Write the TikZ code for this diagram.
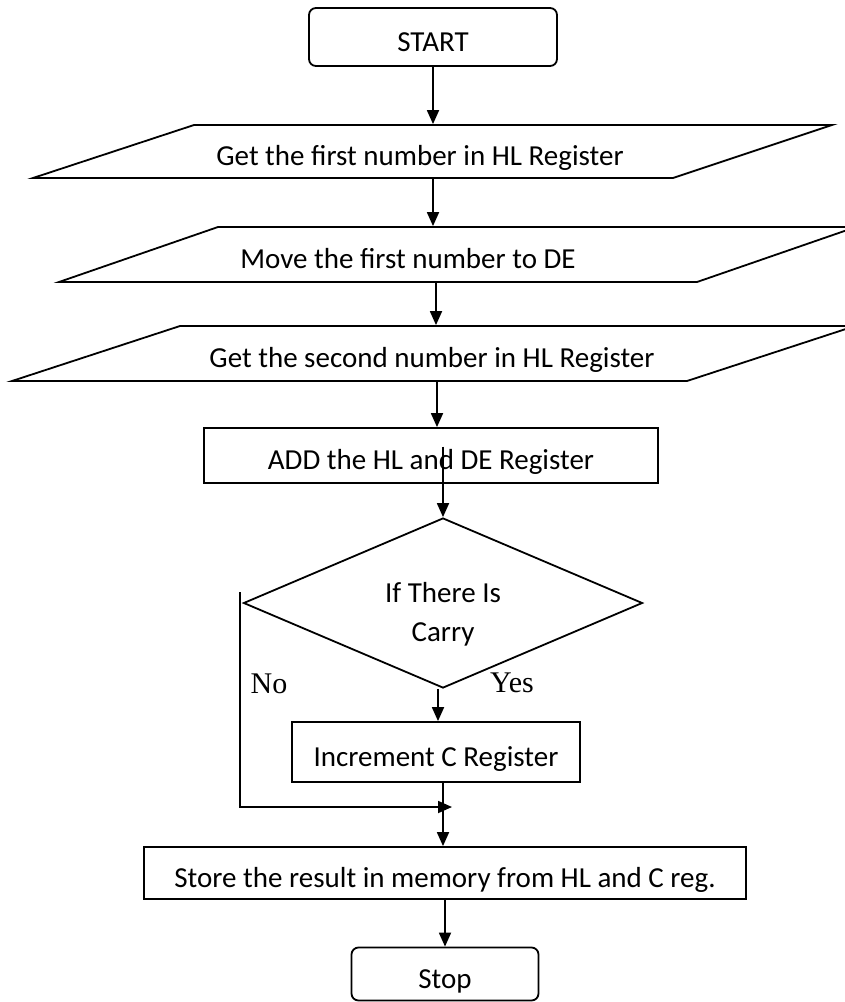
\documentclass[tikz,border=0pt]{standalone}
\usepackage{fontspec}
\setmainfont{Carlito}
\newfontfamily\answerfont{Liberation Serif}
\usetikzlibrary{arrows.meta,shapes.geometric}

\begin{document}
\begin{tikzpicture}[x=1pt,y=-1pt,
  line width=1.8pt,
  arr/.style={-{Triangle[length=14pt,width=12pt]}},
  lbl/.style={font=\fontsize{29}{35}\selectfont, text height=28.6pt, text depth=0pt, inner sep=0pt},
  terminal/.style={lbl, draw, rounded corners=7pt},
  process/.style={lbl, draw},
  io/.style={lbl},
  decision/.style={draw, diamond, inner sep=0pt},
  answer/.style={font=\answerfont\fontsize{30}{36}\selectfont, inner sep=0pt}
]
% page
\path[fill=white, use as bounding box] (0,0) rectangle (844,1002);

% start
\node[terminal, minimum width=248pt, minimum height=58pt] (start) at (433,37) {START};

% input / output steps (parallelograms)
\node[io, minimum height=53pt] (in1) at (420,151.5) {Get the first number in HL Register};
\draw (33,178) -- (673,178) -- (832,125) -- (194,125) -- cycle;

\node[io, minimum height=55pt] (in2) at (408,254.5) {Move the first number to DE};
\draw (59,282) -- (697,282) -- (856,227) -- (218,227) -- cycle;

\node[io, minimum height=55pt] (in3) at (432,353.5) {Get the second number in HL Register};
\draw (12,381) -- (687,381) -- (855,326) -- (180,326) -- cycle;

% addition
\node[process, minimum width=454pt, minimum height=55pt] (add) at (431,455.5) {ADD the HL and DE Register};

% carry test
\node[decision, minimum width=399pt, minimum height=170pt] (dec) at (443,603) {};
\node[font=\fontsize{29}{39}\selectfont, align=center, inner sep=0pt] (dectext) at (443,614) {If There Is\\Carry};
\node[answer] (no) at (269,684) {No};
\node[answer] (yes) at (512,683) {Yes};

% increment and store
\node[process, minimum width=288pt, minimum height=60pt] (inc) at (436,752) {Increment C Register};
\node[process, minimum width=602pt, minimum height=52pt] (store) at (445,873) {Store the result in memory from HL and C reg.};

% stop
\node[terminal, minimum width=187pt, minimum height=53pt] (stop) at (445,974) {Stop};

% flow
\draw[arr] (start.south) -- (start.south |- in1.north);
\draw[arr] ([xshift=13pt]in1.south) -- ([xshift=25pt]in2.north);
\draw[arr] ([xshift=28pt]in2.south) -- ([xshift=4pt]in3.north);
\draw[arr] ([xshift=5pt]in3.south) -- ([xshift=6pt]add.north);
\draw[arr] ([shift={(12,-9)}]add.center) -- (dec.north);
\draw[arr] ([xshift=-5pt]dec.south) -- ([xshift=2pt]inc.north);
\draw[arr] ([xshift=7pt]inc.south) -- ([xshift=-2pt]store.north);
\draw[arr] (store.south) -- (stop.north);

% no-carry bypass
\coordinate (bypass) at (240,592);
\coordinate (join) at (452,807);
\draw[arr] (bypass) -- (bypass |- join) -- (join);
\end{tikzpicture}
\end{document}
